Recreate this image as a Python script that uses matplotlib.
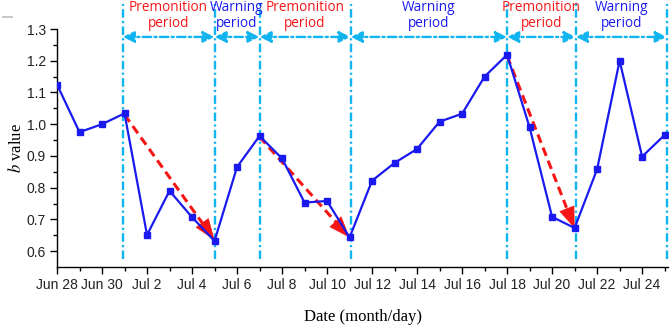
import matplotlib
matplotlib.use("Agg")
import matplotlib.pyplot as plt
from matplotlib.lines import Line2D

# ---- data ----
days = list(range(28))  # days since Jun 28
b_values = [1.125, 0.975, 1.000, 1.034, 0.651, 0.790, 0.707, 0.632, 0.865, 0.963,
            0.892, 0.753, 0.758, 0.643, 0.822, 0.878, 0.922, 1.008, 1.033, 1.150,
            1.219, 0.990, 0.708, 0.673, 0.858, 1.200, 0.898, 0.966]
tick_days = list(range(0, 28, 2))
tick_labels = ["Jun 28", "Jun 30", "Jul 2", "Jul 4", "Jul 6", "Jul 8", "Jul 10",
               "Jul 12", "Jul 14", "Jul 16", "Jul 18", "Jul 20", "Jul 22", "Jul 24"]
boundaries = [2.92, 7.0, 9.0, 13.05, 20.0, 23.05, 27.1]
period_names = ["Premonition\nperiod", "Warning\nperiod", "Premonition\nperiod",
                "Warning\nperiod", "Premonition\nperiod", "Warning\nperiod"]
period_kinds = ["P", "W", "P", "W", "P", "W"]
trend_start_day = [3.0, 9.0, 20.0]
trend_start_b = [1.030, 0.960, 1.215]
trend_end_day = [7.0, 13.0, 23.0]
trend_end_b = [0.635, 0.643, 0.672]

CYAN = "#10B4EE"
BLUE = "#1A1AF0"
RED = "#F51515"

plt.rcParams["mathtext.fontset"] = "stix"

fig = plt.figure(figsize=(6.71, 3.26), dpi=100)
ax = fig.add_axes([57 / 671, 59 / 326, (668 - 57) / 671, (297 - 59) / 326])

ax.set_xlim(0, 27.15)
ax.set_ylim(0.55, 1.3)

# vertical boundary lines
dash = (0, (3.6, 1.4, 0.9, 1.4))
for xb in boundaries:
    ax.plot([xb, xb], [0.575, 1.378], color=CYAN, lw=1.7, linestyle=dash,
            clip_on=False, zorder=2)

# double arrows + labels
y_arrow = 1.275
for i in range(len(boundaries) - 1):
    x0, x1 = boundaries[i], boundaries[i + 1]
    ax.annotate("", xy=(x1, y_arrow), xytext=(x0, y_arrow),
                arrowprops=dict(arrowstyle="<|-|>,head_length=0.45,head_width=0.22",
                                color=CYAN, lw=1.7,
                                linestyle=(0, (3.6, 1.4, 0.9, 1.4)),
                                mutation_scale=15, shrinkA=0, shrinkB=0),
                annotation_clip=False, zorder=3)
    col = RED if period_kinds[i] == "P" else BLUE
    ax.text((x0 + x1) / 2, 1.343, period_names[i], ha="center", va="center",
            color=col, fontsize=9.8, family="Open Sans", linespacing=1.15,
            clip_on=False)

# main series
ax.plot(days, b_values, color=BLUE, lw=1.6, marker="s", markersize=4.8,
        markerfacecolor=BLUE, markeredgecolor=BLUE, zorder=5)

# red trend arrows
for xs, ys, xe, ye in zip(trend_start_day, trend_start_b, trend_end_day, trend_end_b):
    f = 0.88
    xm = xs + (xe - xs) * f
    ym = ys + (ye - ys) * f
    ax.plot([xs, xm], [ys, ym], color=RED, lw=2.2, linestyle=(0, (2.9, 1.7)),
            zorder=4)
    ax.annotate("", xy=(xe, ye), xytext=(xm, ym),
                arrowprops=dict(arrowstyle="-|>,head_length=0.8,head_width=0.3",
                                color=RED, lw=0.5,
                                mutation_scale=18, shrinkA=0, shrinkB=0),
                zorder=4)

# axes styling
for s in ["top", "right"]:
    ax.spines[s].set_visible(False)
for s in ["left", "bottom"]:
    ax.spines[s].set_linewidth(1.0)

ax.set_xticks(tick_days)
ax.set_xticklabels(tick_labels)
ax.set_xticks([d for d in days if d % 2 == 1], minor=True)
ax.set_yticks([0.6, 0.7, 0.8, 0.9, 1.0, 1.1, 1.2, 1.3])
ax.set_yticks([0.65, 0.75, 0.85, 0.95, 1.05, 1.15, 1.25], minor=True)
ax.set_yticklabels([f"{v:.1f}" for v in [0.6, 0.7, 0.8, 0.9, 1.0, 1.1, 1.2, 1.3]])
ax.tick_params(axis="both", which="major", direction="out", length=5, width=1,
               labelsize=10, pad=3)
ax.tick_params(axis="both", which="minor", direction="out", length=3, width=1)
for lab in ax.get_xticklabels() + ax.get_yticklabels():
    lab.set_family("Liberation Sans")
    lab.set_color("#222222")

ax.set_xlabel("Date (month/day)", fontsize=12, family="Liberation Serif", labelpad=12)
ax.set_ylabel(r"$b$ value", fontsize=12, family="Liberation Serif", labelpad=1)

# small grey mark at top-left
fig.add_artist(Line2D([3 / 671, 12 / 671], [1 - 17 / 326, 1 - 17 / 326],
                      color="#BBBBBB", lw=1.2))

fig.savefig("out.png", dpi=100)
